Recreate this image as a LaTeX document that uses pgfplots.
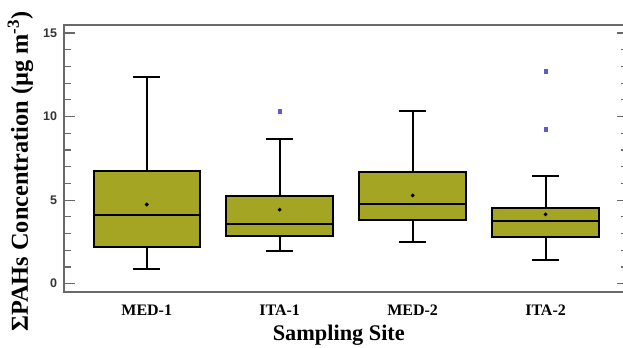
\documentclass[border=0pt]{standalone}
\usepackage{fontspec}
\setmainfont{Liberation Serif}
\newfontfamily\arialf{Liberation Sans}
\usepackage{pgfplots}
\pgfplotsset{compat=1.18}
\usepgfplotslibrary{statistics}
\definecolor{boxfill}{RGB}{163,165,35}
\definecolor{meanc}{RGB}{125,100,25}
\definecolor{outc}{RGB}{95,90,205}
\definecolor{framec}{RGB}{105,105,105}
\begin{document}
\begin{tikzpicture}
\begin{axis}[
  at={(64.3bp,56bp)}, anchor=south west,
  scale only axis, width=563.7bp, height=267.3bp,
  xmin=0.38, xmax=4.62, ymin=-0.5, ymax=15.5,
  xtick={1,2,3,4}, xticklabels={MED-1,ITA-1,MED-2,ITA-2},
  major x tick style={draw=none},
  ytick={0,5,10,15}, yticklabels={0,5,10,15}, minor y tick num=4,
  tick align=inside, ytick pos=both,
  major tick length=11bp, minor tick length=7bp,
  every tick/.style={framec, line width=1.2bp},
  axis line style={framec, line width=2bp},
  xticklabel style={font=\fontsize{16bp}{18bp}\selectfont\bfseries, anchor=base, yshift=-23bp, inner sep=0pt},
  yticklabel style={font=\arialf\fontsize{12.5bp}{14bp}\selectfont\bfseries, text=black!80, anchor=east, inner sep=0pt, xshift=-7bp},
  xlabel={Sampling Site},
  xlabel style={font=\fontsize{22.3bp}{26bp}\selectfont\bfseries, at={(axis description cs:0.487,0)}, anchor=base, yshift=-48.5bp, inner sep=0pt},
  ylabel={ΣPAHs Concentration (µg m\textsuperscript{-3})},
  ylabel style={font=\fontsize{24.3bp}{27bp}\selectfont\bfseries, at={(axis description cs:-0.0644,0.451)}, anchor=base, inner sep=0pt},
  boxplot/draw direction=y,
  boxplot/box extend=0.8,
  boxplot/whisker extend=0.2,
  boxplot/every average/.style={/tikz/mark=*, /tikz/mark size=0.65bp, /tikz/mark options={fill=meanc, draw=meanc, line width=0.1bp}},
]
\pgfplotsset{mybox/.style={solid, draw=black, line width=2bp, fill=boxfill, mark=square*, mark size=1.6bp, mark options={fill=outc, draw=outc, line width=0.3bp}}}
\addplot[mybox, boxplot prepared={draw position=1, lower whisker=0.875, lower quartile=2.17, median=4.13, upper quartile=6.77, upper whisker=12.38, average=4.74}] coordinates {};
\addplot[mybox, boxplot prepared={draw position=2, lower whisker=1.93, lower quartile=2.86, median=3.55, upper quartile=5.26, upper whisker=8.67, average=4.43}] coordinates {(0,10.32)};
\addplot[mybox, boxplot prepared={draw position=3, lower whisker=2.5, lower quartile=3.83, median=4.74, upper quartile=6.71, upper whisker=10.32, average=5.28}] coordinates {};
\addplot[mybox, boxplot prepared={draw position=4, lower whisker=1.41, lower quartile=2.8, median=3.77, upper quartile=4.5, upper whisker=6.43, average=4.15}] coordinates {(0,12.72) (0,9.25)};
\end{axis}
\pgfresetboundingbox
\path (0bp,0bp) rectangle (623bp,348bp);
\end{tikzpicture}
\end{document}
